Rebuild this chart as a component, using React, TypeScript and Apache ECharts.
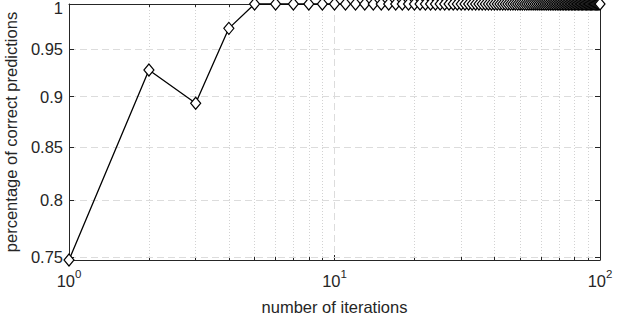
import React, { useEffect, useRef } from "react";
import * as echarts from "echarts";

const iterations = [
  1, 2, 3, 4, 5, 6, 7, 8, 9, 10,
  11, 12, 13, 14, 15, 16, 17, 18, 19, 20,
  21, 22, 23, 24, 25, 26, 27, 28, 29, 30,
  31, 32, 33, 34, 35, 36, 37, 38, 39, 40,
  41, 42, 43, 44, 45, 46, 47, 48, 49, 50,
  51, 52, 53, 54, 55, 56, 57, 58, 59, 60,
  61, 62, 63, 64, 65, 66, 67, 68, 69, 70,
  71, 72, 73, 74, 75, 76, 77, 78, 79, 80,
  81, 82, 83, 84, 85, 86, 87, 88, 89, 90,
  91, 92, 93, 94, 95, 96, 97, 98, 99, 100,
];

const accuracy = [
  0.7475, 0.9277, 0.8933, 0.9727, 1, 1, 1, 1, 1, 1,
  1, 1, 1, 1, 1, 1, 1, 1, 1, 1,
  1, 1, 1, 1, 1, 1, 1, 1, 1, 1,
  1, 1, 1, 1, 1, 1, 1, 1, 1, 1,
  1, 1, 1, 1, 1, 1, 1, 1, 1, 1,
  1, 1, 1, 1, 1, 1, 1, 1, 1, 1,
  1, 1, 1, 1, 1, 1, 1, 1, 1, 1,
  1, 1, 1, 1, 1, 1, 1, 1, 1, 1,
  1, 1, 1, 1, 1, 1, 1, 1, 1, 1,
  1, 1, 1, 1, 1, 1, 1, 1, 1, 1,
];

const xMajorTicks = [1, 10, 100];
const xMinorTicks = [2, 3, 4, 5, 6, 7, 8, 9, 20, 30, 40, 50, 60, 70, 80, 90];
const yTicks = [0.75, 0.8, 0.85, 0.9, 0.95, 1];
const yTickLabels = ["0.75", "0.8", "0.85", "0.9", "0.95", "1"];

const xMin = 1;
const xMax = 100;
const yMin = 0.7475;
const yMax = 1;

const TEXT = "#262626";
const AXIS = "#262626";
const FONT = "'Liberation Sans', Arial, Helvetica, sans-serif";
const FS = 16.5;

export default function App() {
  const ref = useRef<HTMLDivElement>(null);

  useEffect(() => {
    if (!ref.current) return;
    const chart = echarts.init(ref.current, undefined, { renderer: "svg" });

    const baseX = {
      type: "log" as const,
      logBase: 10,
      min: xMin,
      max: xMax,
      gridIndex: 0,
    };
    const baseY = {
      type: "log" as const,
      logBase: 10,
      min: yMin,
      max: yMax,
      gridIndex: 0,
    };

    chart.setOption({
      animation: false,
      backgroundColor: "#ffffff",
      textStyle: { fontFamily: FONT },
      grid: {
        left: 69,
        right: 33,
        top: 4,
        bottom: 63,
        show: false,
        containLabel: false,
        outerBoundsMode: "none",
      },
      xAxis: [
        {
          ...baseX,
          z: 2,
          position: "bottom",
          name: "number of iterations",
          nameLocation: "middle",
          nameGap: 38,
          nameTextStyle: { color: TEXT, fontSize: FS, fontFamily: FONT },
          axisLine: { show: true, lineStyle: { color: AXIS, width: 1 } },
          axisTick: {
            show: true,
            inside: true,
            length: 5,
            lineStyle: { color: AXIS },
            customValues: xMajorTicks,
          },
          axisLabel: {
            show: true,
            margin: 8,
            customValues: xMajorTicks,
            formatter: (v: number) => `{b|10}{s|${Math.round(Math.log10(v))}}`,
            rich: {
              b: {
                fontSize: FS,
                color: TEXT,
                fontFamily: FONT,
                lineHeight: 21,
                verticalAlign: "bottom",
              },
              s: {
                fontSize: 11.5,
                color: TEXT,
                fontFamily: FONT,
                lineHeight: 12,
                verticalAlign: "top",
              },
            },
          },
          splitLine: {
            show: true,
            lineStyle: { color: "#dcdcdc", type: [7, 4], width: 1 },
          },
        },
        {
          ...baseX,
          z: 1,
          position: "bottom",
          axisLine: { show: false },
          axisTick: {
            show: true,
            inside: true,
            length: 3,
            lineStyle: { color: AXIS },
            customValues: xMinorTicks,
          },
          axisLabel: { show: false },
          splitLine: {
            show: true,
            lineStyle: { color: "#d2d2d2", type: [1, 2], width: 1 },
          },
        },
        {
          ...baseX,
          z: 5,
          position: "top",
          axisLine: { show: true, lineStyle: { color: AXIS, width: 1 } },
          axisTick: {
            show: true,
            inside: true,
            length: 5,
            lineStyle: { color: AXIS },
            customValues: xMajorTicks,
          },
          axisLabel: { show: false },
          splitLine: { show: false },
        },
        {
          ...baseX,
          z: 5,
          position: "top",
          axisLine: { show: false },
          axisTick: {
            show: true,
            inside: true,
            length: 3,
            lineStyle: { color: AXIS },
            customValues: xMinorTicks,
          },
          axisLabel: { show: false },
          splitLine: { show: false },
        },
      ],
      yAxis: [
        {
          ...baseY,
          z: 3,
          position: "left",
          name: "percentage of correct predictions",
          nameLocation: "middle",
          nameGap: 42,
          nameTextStyle: { color: TEXT, fontSize: FS, fontFamily: FONT },
          axisLine: { show: true, lineStyle: { color: AXIS, width: 1 } },
          axisTick: {
            show: true,
            inside: true,
            length: 5,
            lineStyle: { color: AXIS },
            customValues: yTicks,
          },
          axisLabel: {
            show: true,
            margin: 6,
            color: TEXT,
            fontSize: FS,
            fontFamily: FONT,
            customValues: yTicks,
            formatter: (v: number) => {
              const i = yTicks.findIndex((t) => Math.abs(t - v) < 1e-9);
              const s = i >= 0 ? yTickLabels[i] : String(v);
              return i === yTicks.length - 1 ? `{edge|${s}}` : s;
            },
            rich: {
              edge: {
                fontSize: FS,
                color: TEXT,
                fontFamily: FONT,
                lineHeight: 14,
                padding: [8, 0, 0, 0],
              },
            },
          },
          splitLine: {
            show: true,
            lineStyle: { color: "#dcdcdc", type: [7, 4], width: 1 },
          },
        },
        {
          ...baseY,
          z: 5,
          position: "right",
          axisLine: { show: true, lineStyle: { color: AXIS, width: 1 } },
          axisTick: {
            show: true,
            inside: true,
            length: 5,
            lineStyle: { color: AXIS },
            customValues: yTicks,
          },
          axisLabel: { show: false },
          splitLine: { show: false },
        },
      ],
      series: [
        {
          type: "line",
          xAxisIndex: 0,
          yAxisIndex: 0,
          data: iterations.map((x, i) => [x, accuracy[i]]),
          clip: false,
          symbol: "diamond",
          symbolSize: [10, 12],
          showAllSymbol: true,
          lineStyle: { color: "#000000", width: 1.3 },
          itemStyle: { color: "#ffffff", borderColor: "#000000", borderWidth: 1.2 },
          z: 10,
        },
      ],
    });

    return () => chart.dispose();
  }, []);

  return (
    <div
      ref={ref}
      style={{ position: "fixed", left: 0, top: 0, width: 633, height: 323 }}
    />
  );
}
